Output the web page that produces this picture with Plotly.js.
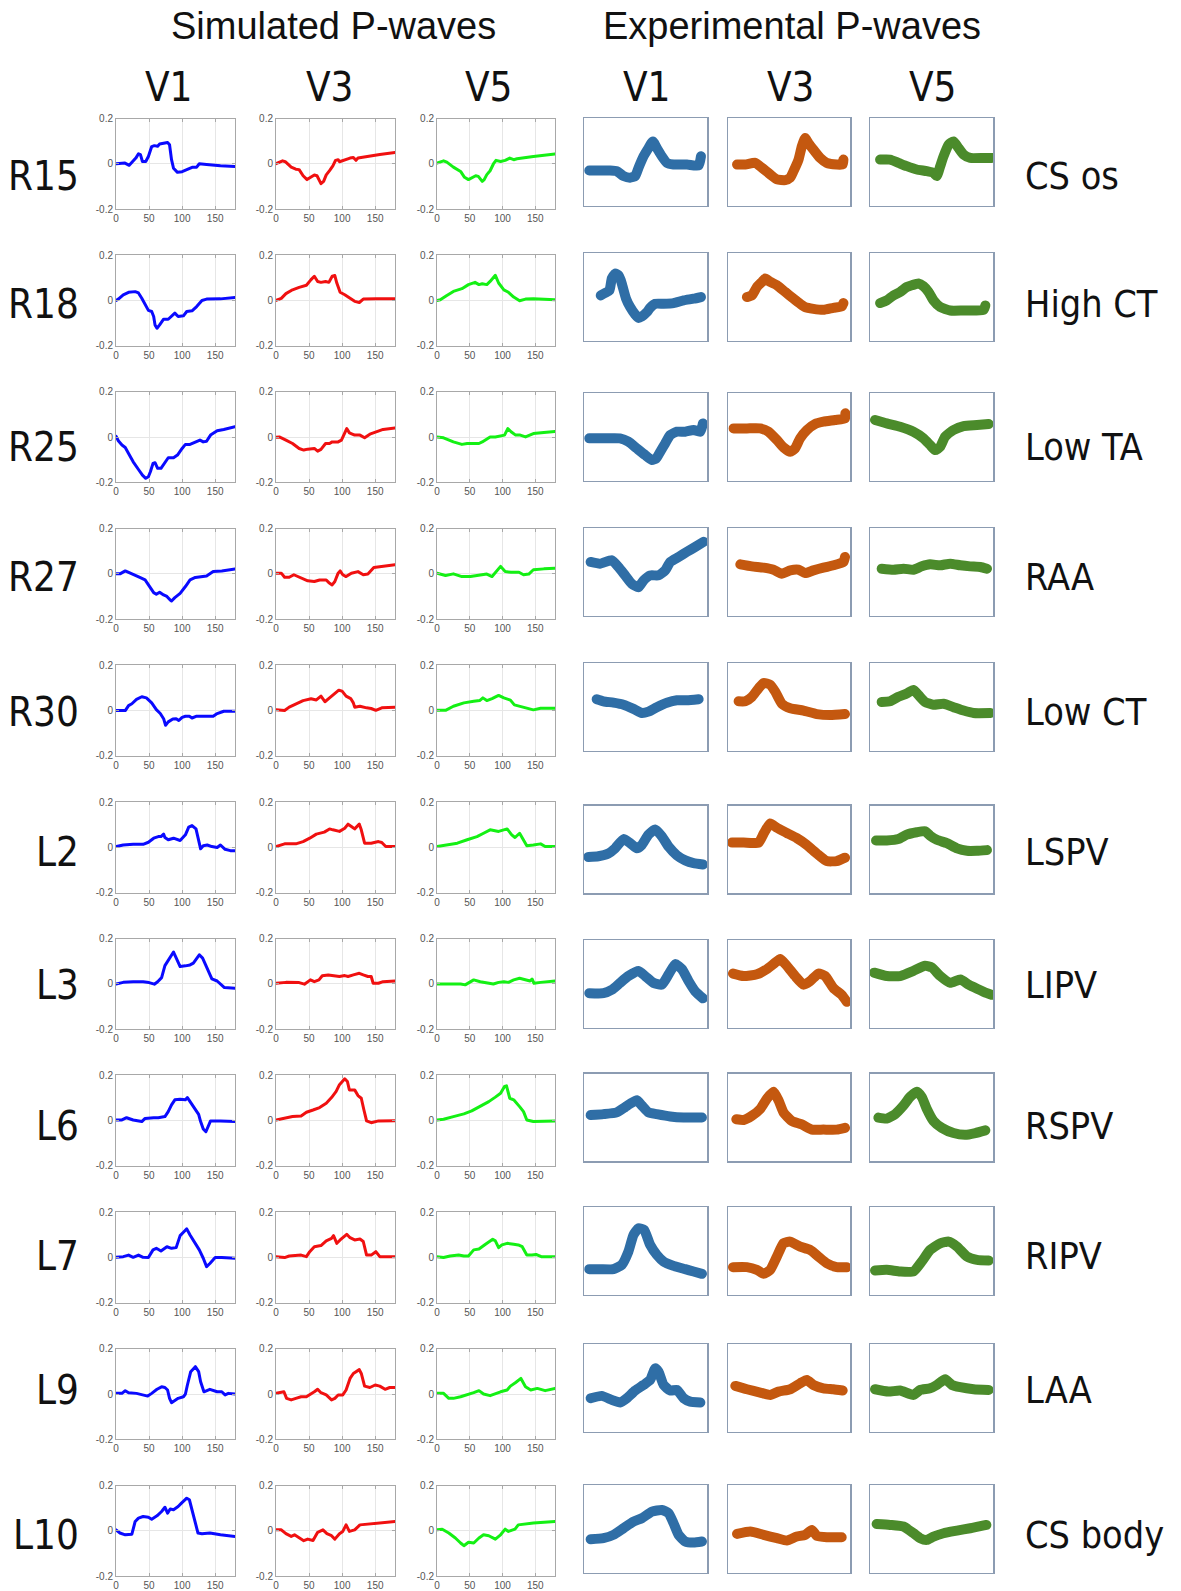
<!DOCTYPE html>
<html><head><meta charset="utf-8">
<script src="https://cdn.plot.ly/plotly-3.0.1.min.js"></script>
<style>html,body{margin:0;padding:0;background:#fff}#chart{width:1181px;height:1591px}
.js-line{stroke-linejoin:round;stroke-linecap:round}</style>
</head><body><div id="chart"></div>
<script>
// ---------------- labels ----------------
const rowLabels = ['R15','R18','R25','R27','R30','L2','L3','L6','L7','L9','L10'];
const siteLabels = ['CS os','High CT','Low TA','RAA','Low CT','LSPV','LIPV','RSPV','RIPV','LAA','CS body'];
const leads = ['V1','V3','V5'];
const groupTitles = ['Simulated P-waves','Experimental P-waves'];
const xTicks = [0,50,100,150];
const yTicks = [-0.2,0,0.2];
const yTickText = ['-0.2','0','0.2'];

// ---------------- simulated P-waves: [time, amplitude] ----------------
const sim_R15_V1 = [[0,0],[10,0],[13.6,0.003],[20,-0.007],[26,0.01],[30,0.025],[34,0.044],[37,0.04],[40,0.01],[45,0.01],[49,0.032],[54,0.076],[58,0.08],[63,0.077],[66,0.087],[72,0.09],[78,0.094],[81,0.084],[84,0.018],[87,-0.02],[93,-0.038],[100,-0.035],[108,-0.024],[116,-0.015],[122,-0.015],[126,0],[137,-0.003],[158,-0.009],[180,-0.012]];
const sim_R15_V3 = [[0,0],[10,0.013],[14,0.009],[23,-0.015],[30,-0.024],[35,-0.026],[41,-0.053],[47,-0.07],[53,-0.059],[58,-0.05],[62,-0.053],[68,-0.088],[72,-0.078],[76,-0.049],[81,-0.03],[86,-0.009],[90,0.015],[94,0.018],[96,0.009],[104,0.018],[112,0.025],[117,0.028],[121,0.015],[124,0.025],[137,0.032],[157,0.041],[180,0.05]];
const sim_R15_V5 = [[0,0.003],[10,0.013],[15,0.007],[25,-0.015],[36,-0.034],[42,-0.06],[48,-0.07],[53,-0.063],[59,-0.053],[63,-0.056],[69,-0.078],[72,-0.07],[76,-0.048],[81,-0.031],[86,-0.001],[90,0.015],[97,0.01],[104,0.015],[111,0.025],[117,0.018],[122,0.022],[147,0.032],[180,0.043]];
const sim_R18_V1 = [[0,0],[3.5,0.006],[11,0.025],[19,0.036],[29,0.039],[34,0.033],[39,0.01],[44,-0.019],[49,-0.044],[54,-0.049],[57,-0.071],[59,-0.108],[62,-0.123],[66,-0.108],[72,-0.083],[79,-0.083],[83,-0.071],[89,-0.056],[94,-0.071],[102,-0.068],[107,-0.049],[115,-0.046],[122,-0.027],[130,0],[137,0.006],[158,0.007],[180,0.013]];
const sim_R18_V3 = [[0,0],[8,0.009],[15,0.03],[25,0.047],[35,0.058],[46,0.067],[53,0.092],[58,0.107],[63,0.084],[68,0.08],[75,0.084],[80,0.08],[85,0.107],[89,0.11],[92,0.077],[97,0.036],[104,0.025],[112,0.01],[119,-0.004],[126,-0.009],[132,0.006],[152,0.007],[180,0.007]];
const sim_R18_V5 = [[0,0],[5,0.003],[15,0.022],[25,0.04],[38,0.052],[48,0.07],[58,0.08],[64,0.07],[69,0.074],[76,0.07],[81,0.084],[89,0.111],[94,0.077],[102,0.047],[109,0.036],[117,0.015],[126,-0.001],[135,0.006],[147,0.007],[180,0.003]];
const sim_R25_V1 = [[0,0.004],[3.5,-0.016],[9,-0.035],[14,-0.046],[19,-0.072],[26,-0.109],[34,-0.143],[40,-0.168],[45,-0.182],[49,-0.175],[52,-0.153],[56,-0.116],[59,-0.113],[63,-0.138],[68,-0.138],[73,-0.116],[79,-0.091],[87,-0.091],[93,-0.079],[100,-0.05],[105,-0.032],[112,-0.032],[122,-0.018],[127,-0.013],[132,-0.021],[137,-0.018],[143,0.009],[153,0.028],[163,0.034],[180,0.046]];
const sim_R25_V3 = [[0,0],[5,0.001],[15,-0.013],[25,-0.028],[35,-0.05],[42,-0.057],[48,-0.053],[55,-0.053],[58,-0.05],[63,-0.062],[68,-0.054],[75,-0.028],[81,-0.028],[85,-0.021],[94,-0.021],[99,-0.013],[104,0.024],[107,0.038],[111,0.019],[119,0.009],[127,0.009],[134,-0.003],[142,0.013],[152,0.024],[162,0.034],[180,0.041]];
const sim_R25_V5 = [[0,0.001],[10,-0.003],[25,-0.021],[38,-0.032],[46,-0.028],[53,-0.028],[58,-0.028],[64,-0.028],[69,-0.021],[76,-0.006],[81,0.001],[89,0.001],[97,0.004],[103,0.009],[108,0.038],[113,0.024],[120,0.009],[127,0.009],[135,0.001],[147,0.016],[163,0.021],[180,0.025]];
const sim_R27_V1 = [[0,0],[6,0],[14,0.013],[19,0.007],[26,-0.004],[36,-0.016],[44,-0.027],[49,-0.049],[57,-0.083],[61,-0.09],[66,-0.081],[72,-0.093],[77,-0.1],[82,-0.116],[84,-0.12],[89,-0.105],[97,-0.086],[105,-0.056],[112,-0.027],[120,-0.016],[127,-0.012],[137,-0.009],[147,0.01],[160,0.013],[180,0.021]];
const sim_R27_V3 = [[0,0.003],[8,0.003],[13,-0.015],[20,-0.015],[27,-0.004],[33,-0.012],[41,-0.024],[48,-0.031],[58,-0.034],[66,-0.027],[76,-0.027],[80,-0.039],[85,-0.049],[89,-0.034],[94,0.003],[97,0.013],[101,-0.004],[106,-0.012],[114,0.003],[124,0.01],[132,-0.004],[139,-0.001],[148,0.028],[162,0.033],[180,0.04]];
const sim_R27_V5 = [[0,0.003],[5,-0.001],[13,-0.007],[25,0],[38,-0.012],[51,-0.012],[66,-0.004],[76,-0.001],[84,-0.012],[90,0.007],[97,0.033],[104,0.01],[113,0.007],[125,0.007],[132,-0.004],[140,-0.001],[147,0.018],[163,0.022],[180,0.025]];
const sim_R30_V1 = [[0,0],[14,0],[19,0.022],[24,0.03],[31,0.049],[39,0.061],[46,0.056],[54,0.034],[61,0.004],[67,-0.013],[72,-0.036],[75,-0.065],[79,-0.05],[86,-0.037],[91,-0.036],[95,-0.044],[100,-0.03],[105,-0.025],[111,-0.025],[115,-0.033],[122,-0.025],[137,-0.025],[147,-0.025],[152,-0.015],[163,-0.003],[180,-0.003]];
const sim_R30_V3 = [[0,0.004],[13,0],[20,0.015],[30,0.03],[41,0.044],[53,0.052],[61,0.047],[68,0.064],[74,0.039],[81,0.056],[89,0.074],[95,0.09],[100,0.086],[106,0.064],[113,0.053],[117,0.034],[119,0.015],[127,0.019],[137,0.012],[144,0.009],[151,0.001],[160,0.012],[180,0.015]];
const sim_R30_V5 = [[0,0.001],[13,0.001],[25,0.019],[41,0.034],[56,0.041],[65,0.044],[70,0.056],[76,0.044],[84,0.053],[94,0.067],[102,0.056],[112,0.046],[118,0.025],[127,0.018],[140,0.01],[147,0.003],[158,0.01],[180,0.01]];
const sim_L2_V1 = [[0,0.003],[11,0.01],[26,0.013],[41,0.013],[49,0.022],[57,0.04],[64,0.047],[68,0.047],[72,0.058],[74,0.043],[79,0.033],[87,0.04],[97,0.03],[105,0.055],[110,0.089],[115,0.096],[121,0.081],[125,0.033],[128,-0.007],[132,0.007],[138,0.01],[145,0.003],[153,-0.001],[158,0.01],[165,-0.009],[173,-0.015],[180,-0.015]];
const sim_L2_V3 = [[0,0.003],[13,0.015],[30,0.015],[41,0.025],[51,0.04],[61,0.058],[73,0.067],[81,0.081],[86,0.077],[96,0.07],[104,0.084],[109,0.102],[114,0.092],[119,0.081],[126,0.102],[129,0.077],[134,0.018],[144,0.018],[155,0.025],[160,0.021],[166,0.003],[180,0.003]];
const sim_L2_V5 = [[0,0.003],[15,0.01],[31,0.018],[46,0.033],[61,0.047],[71,0.062],[81,0.077],[94,0.07],[107,0.081],[114,0.055],[119,0.043],[126,0.062],[130,0.043],[137,0.007],[147,0.01],[158,0.015],[165,0.003],[180,0.003]];
const sim_L3_V1 = [[0,0],[11,0.007],[26,0.01],[41,0.01],[50,0.006],[58,-0.001],[63,0.01],[69,0.028],[74,0.081],[79,0.102],[83,0.121],[87,0.141],[91,0.115],[97,0.077],[105,0.08],[112,0.084],[117,0.092],[122,0.114],[126,0.129],[131,0.114],[137,0.077],[145,0.022],[153,0.013],[157,0.003],[164,-0.016],[180,-0.019]];
const sim_L3_V3 = [[0,0.003],[15,0.007],[35,0.006],[43,-0.001],[52,0.018],[58,0.01],[65,0.018],[70,0.036],[79,0.04],[89,0.037],[96,0.033],[104,0.037],[109,0.033],[117,0.04],[126,0.047],[132,0.04],[139,0.033],[144,0.033],[147,0.003],[155,0.003],[162,0.01],[180,0.013]];
const sim_L3_V5 = [[0,0],[20,0],[36,0],[43,-0.004],[51,0.01],[56,0.018],[66,0.01],[76,0.006],[86,0],[94,0.007],[102,0.01],[109,0.007],[117,0.018],[126,0.025],[135,0.018],[142,0.013],[145,0.022],[148,0.003],[158,0.007],[180,0.013]];
const sim_L6_V1 = [[0,0.003],[9,0.003],[16,0.013],[26,0.003],[39,-0.004],[44,0.01],[57,0.013],[64,0.013],[74,0.018],[79,0.04],[84,0.07],[89,0.092],[97,0.095],[105,0.092],[108,0.102],[112,0.084],[118,0.062],[125,0.028],[128,-0.004],[132,-0.037],[136,-0.049],[140,-0.019],[143,-0.001],[158,-0.001],[180,-0.004]];
const sim_L6_V3 = [[0,0.003],[15,0.013],[25,0.018],[38,0.021],[46,0.037],[56,0.047],[66,0.058],[76,0.077],[84,0.102],[91,0.129],[96,0.159],[104,0.185],[108,0.173],[111,0.136],[119,0.136],[124,0.111],[129,0.099],[133,0.047],[137,-0.001],[144,-0.009],[155,-0.001],[180,0]];
const sim_L6_V5 = [[0,0.003],[10,0.006],[25,0.018],[41,0.03],[53,0.043],[66,0.062],[79,0.084],[89,0.104],[97,0.121],[103,0.151],[106,0.154],[111,0.099],[117,0.092],[126,0.062],[132,0.04],[137,0.003],[147,-0.004],[180,-0.001]];
const sim_L7_V1 = [[0,0],[11,0.003],[19,0.01],[26,0],[34,0.01],[41,0],[49,-0.001],[56,0.033],[61,0.04],[68,0.028],[77,0.047],[84,0.04],[91,0.043],[97,0.096],[102,0.111],[107,0.126],[112,0.099],[120,0.062],[126,0.033],[132,-0.004],[137,-0.041],[142,-0.027],[150,-0.001],[160,-0.001],[180,-0.004]];
const sim_L7_V3 = [[0,0.003],[13,-0.001],[20,0.006],[30,0.01],[38,0.01],[46,0.003],[51,0.025],[58,0.047],[68,0.052],[76,0.073],[84,0.084],[87,0.096],[92,0.062],[97,0.077],[107,0.102],[112,0.087],[119,0.077],[127,0.081],[132,0.07],[137,0.01],[144,0.01],[151,0.025],[157,0.003],[180,0.003]];
const sim_L7_V5 = [[0,0.003],[10,-0.001],[20,0.006],[33,0.01],[41,0.006],[48,0.006],[56,0.033],[64,0.037],[74,0.058],[85,0.08],[89,0.073],[94,0.043],[99,0.055],[107,0.062],[117,0.058],[124,0.055],[130,0.047],[137,0.01],[145,0.01],[151,0.013],[159,0.003],[180,0.003]];
const sim_L9_V1 = [[0,0.003],[9,0.003],[14,0.015],[19,0.006],[31,0.003],[41,-0.004],[48,-0.009],[54,0.003],[62,0.021],[69,0.032],[74,0.029],[78,0.018],[81,-0.019],[84,-0.038],[89,-0.029],[94,-0.019],[102,-0.012],[105,0],[108,0.04],[113,0.099],[120,0.121],[125,0.099],[128,0.054],[133,0.01],[142,0.021],[153,0.01],[160,0.01],[165,-0.004],[170,0.003],[180,0]];
const sim_L9_V3 = [[0,0.003],[12,0.01],[16,-0.019],[23,-0.026],[30,-0.019],[38,-0.012],[46,-0.012],[53,0],[58,0.01],[63,0.021],[68,0.006],[76,-0.004],[84,-0.026],[89,-0.019],[94,-0.004],[101,-0.004],[106,0.018],[112,0.069],[117,0.091],[126,0.108],[129,0.091],[134,0.035],[142,0.029],[150,0.04],[157,0.035],[165,0.021],[172,0.029],[180,0.029]];
const sim_L9_V5 = [[0,0.003],[10,0.003],[18,-0.019],[25,-0.019],[36,-0.012],[46,-0.004],[56,0.006],[64,0.015],[71,0],[81,-0.007],[89,0.003],[97,0.01],[107,0.018],[112,0.035],[120,0.051],[128,0.069],[135,0.032],[143,0.018],[153,0.025],[165,0.015],[180,0.025]];
const sim_L10_V1 = [[0,0.004],[6,-0.01],[14,-0.018],[24,-0.015],[29,0.041],[34,0.056],[41,0.063],[49,0.06],[54,0.051],[62,0.066],[69,0.085],[74,0.104],[78,0.078],[82,0.096],[87,0.093],[94,0.107],[99,0.122],[107,0.144],[111,0.137],[117,0.063],[124,-0.01],[130,-0.013],[142,-0.01],[158,-0.018],[180,-0.025]];
const sim_L10_V3 = [[0,0.004],[8,0.004],[15,-0.013],[23,-0.025],[28,-0.018],[35,-0.032],[42,-0.044],[48,-0.037],[56,-0.043],[63,-0.007],[71,0.004],[77,-0.013],[84,-0.022],[89,-0.037],[96,-0.013],[101,-0.003],[106,0.026],[111,-0.003],[119,0.004],[127,0.026],[152,0.034],[180,0.041]];
const sim_L10_V5 = [[0,0.004],[8,0.007],[18,-0.01],[28,-0.032],[36,-0.054],[41,-0.066],[48,-0.051],[56,-0.054],[64,-0.032],[71,-0.018],[79,-0.022],[89,-0.037],[97,-0.018],[104,0.007],[109,-0.003],[119,0.007],[124,0.026],[147,0.034],[180,0.041]];

// ---------------- experimental P-waves: [% of panel width, % of panel height] ----------------
const exp_R15_V1 = [[4.3,40.4],[10.3,40.4],[21.2,40.4],[26.6,39.6],[32.1,34],[37.5,32.1],[41.6,34],[44.3,43.4],[48.4,56.6],[52.4,66],[56,73.6],[59.2,66],[63.3,56.6],[67.4,49.1],[72.8,47.2],[83.7,47.2],[93.2,46],[95.1,56.6]];
const exp_R15_V3 = [[7.4,47.2],[14.2,47.2],[22.3,49.1],[27.8,43.4],[34.6,35.8],[40.1,30.2],[46.9,29.4],[51,32.1],[53.7,39.6],[57.8,52.8],[60.5,67.9],[63.2,77.4],[65.9,71.7],[70,64.2],[75.5,54.7],[80.9,49.1],[89.1,47.2],[94,47.2],[94.6,52.8]];
const exp_R15_V5 = [[8.2,52.8],[16.3,52.8],[23.1,49.1],[29.9,45.3],[38,41.5],[46.2,39.6],[51.6,37.7],[54.3,34],[57.1,45.3],[59.8,56.6],[63.9,69.8],[67.9,73.6],[72,66],[76.1,58.5],[81.5,54.7],[92.4,54.7],[99,54.7]];
const exp_R18_V1 = [[13.6,51.9],[17.1,54.6],[20.7,57.7],[22.6,71.2],[25.3,76.9],[28,75],[29.9,69.2],[31.5,61.5],[34.2,48.1],[37.5,38.5],[41.6,30],[44.3,26.2],[47,27.7],[51.1,32.7],[53.8,37.7],[57.9,42.3],[64.7,42.3],[72.8,43.1],[81,46.2],[89.1,48.1],[95.1,50]];
const exp_R18_V3 = [[15.5,50],[19.6,51.9],[23.7,61.5],[27.8,67.3],[30.5,71.2],[34.6,67.3],[40.1,63.5],[46.9,55.8],[53.7,48.1],[59.1,42.3],[63.2,38.5],[70,36.5],[78.2,35.4],[86.4,37.7],[93.2,39.2],[94.6,43.1]];
const exp_R18_V5 = [[8.2,43.1],[13.6,46.2],[19,51.9],[24.5,55.8],[29.9,61.5],[34,63.5],[39.4,65.4],[43.5,62.3],[47.6,55.8],[51.6,46.2],[57.1,38.5],[65.2,34.6],[76.1,34.6],[85.6,34.6],[92.4,35.4],[93.8,40.4]];
const exp_R25_V1 = [[4.3,48.5],[15.8,48.5],[29.3,48.5],[36.1,44.7],[42.9,37],[49.7,29.4],[55.2,23.7],[58.7,25.6],[62,33.2],[66,42.7],[70.1,52.3],[75.5,56.1],[82.3,56.1],[89.1,58],[94.6,56.1],[96.7,65.6]];
const exp_R25_V3 = [[4.6,59.9],[15.5,59.9],[26.4,59.9],[33.2,56.1],[40.1,46.6],[45.5,38.2],[51,33.2],[55,37],[59.1,48.5],[64.6,58],[71.4,64.9],[78.2,67.6],[87.7,69.5],[95.9,71.4],[96.2,77.1]];
const exp_R25_V5 = [[4.1,69.5],[13.6,65.6],[24.5,61.8],[35.3,56.1],[43.5,48.5],[48.9,40.8],[53,35.1],[57.1,38.9],[61.1,50.4],[67.9,58],[76.1,62.6],[87,63.7],[96.5,64.9]];
const exp_R27_V1 = [[5.4,61.5],[13,59.6],[22.6,63.5],[28,55.8],[33.4,46.2],[38.9,36.5],[44.3,32.7],[48.4,40.4],[53.8,46.2],[60.6,46.2],[66,51.9],[70.1,61.5],[76.9,67.3],[83.7,73.1],[90.5,78.8],[97.3,84.6]];
const exp_R27_V3 = [[10.1,58.8],[19.6,56.5],[29.2,55],[37.3,52.7],[44.1,48.1],[51,51.9],[57.8,52.7],[63.2,48.8],[70,51.9],[78.2,55],[86.4,57.7],[94.6,61.5],[95.9,67.3]];
const exp_R27_V5 = [[9.5,53.8],[19,52.7],[27.2,53.8],[35.3,52.7],[42.1,56.5],[48.9,58.8],[57.1,57.7],[65.2,59.6],[73.4,57.7],[81.5,56.5],[89.7,55.8],[95.1,53.8]];
const exp_R30_V1 = [[10.3,59.1],[15.8,56.7],[23.9,55.1],[32.1,52.8],[40.2,48],[47,43.3],[52.4,44.9],[59.2,50],[67.4,55.1],[75.5,57.9],[83.7,57.9],[93.2,59.1]];
const exp_R30_V3 = [[8.7,56.7],[14.2,56.7],[19.6,61.8],[25.1,71.7],[29.2,77.6],[34.6,75.6],[38.7,67.7],[44.1,53.9],[51,48.8],[61.9,46.1],[72.8,42.1],[83.7,40.9],[95.9,42.1]];
const exp_R30_V5 = [[9.5,55.9],[16.3,56.7],[23.1,61.8],[29.9,65.7],[35.3,69.7],[39.4,63.8],[44.8,55.9],[51.6,52.8],[59.8,53.9],[67.9,50],[76.1,46.1],[84.2,43.3],[97.8,43.3]];
const exp_L2_V1 = [[3.5,41.2],[11.7,42],[19.8,45.1],[25.3,51],[32.1,61.6],[37.5,56.9],[42.9,51],[47,54.9],[52.4,66.7],[57.9,72.5],[63.3,64.7],[68.8,52.9],[75.5,43.1],[82.3,37.3],[89.1,34.1],[96.7,32.5]];
const exp_L2_V3 = [[3.3,57.6],[12.8,57.6],[25.1,57.6],[29.2,67.8],[34.6,79.6],[40.1,74.5],[48.2,68.6],[56.4,62.7],[64.6,54.9],[72.8,45.1],[80.9,36.5],[89.1,36.5],[95.9,40.4]];
const exp_L2_V5 = [[4.9,60],[13.6,60],[23.1,61.6],[29.9,66.7],[38,69.4],[44.8,70.6],[48.9,65.5],[54.3,60.8],[62.5,56.9],[70.7,51],[78.8,48.2],[87,48.2],[95.1,49]];
const exp_L3_V1 = [[4.3,39.2],[15.8,39.2],[22.6,43.1],[29.3,51],[36.1,58.8],[44.3,64.7],[49.7,58.8],[56.5,51],[63.3,49],[68.8,60.8],[74.2,72.5],[79.6,66.7],[85.1,52.9],[90.5,41.2],[96.7,33.3]];
const exp_L3_V3 = [[4.1,61.6],[12.8,58.8],[23.7,60.8],[31.9,66.7],[37.3,72.5],[42.8,78.4],[48.2,70.6],[55,58.8],[61.9,49],[67.3,52.9],[74.1,61.6],[79.6,58.8],[86.4,45.1],[93.2,37.3],[97.3,29.4]];
const exp_L3_V5 = [[3.3,62.7],[13.6,58.8],[24.5,58.8],[35.3,64.7],[44.8,70.6],[50.3,68.6],[57.1,58.8],[65.2,51],[73.4,54.9],[80.2,49],[87,44.3],[95.1,39.2],[99.2,37.3]];
const exp_L6_V1 = [[5.4,52.8],[15.8,53.9],[26.6,55.9],[33.4,61.8],[37.5,65.7],[42.9,69.7],[47,63.8],[52.4,55.9],[59.2,53.9],[70.1,51.2],[81,50],[95.9,50]];
const exp_L6_V3 = [[6.8,48],[12.8,47.2],[19.6,52],[26.4,59.8],[31.9,71.7],[37.3,79.5],[41.4,69.7],[45.5,55.9],[52.3,46.1],[60.5,42.1],[68.7,36.2],[78.2,36.2],[89.1,36.2],[95.9,38.2]];
const exp_L6_V5 = [[6.8,50],[13.6,48.8],[20.4,53.9],[27.2,63.8],[32.6,73.6],[38,79.5],[42.1,73.6],[46.2,59.8],[51.6,46.1],[58.4,38.2],[67.9,32.3],[77.4,30.3],[85.6,32.3],[93.8,35.4]];
const exp_L7_V1 = [[4.3,29.3],[13,29.3],[23.9,29.3],[30.7,34.2],[36.1,49.4],[40.2,68.4],[44.3,76],[48.9,74.1],[53.8,57],[59.2,45.6],[64.7,38],[72.8,33.1],[82.3,29.3],[89.1,26.6],[95.9,24]];
const exp_L7_V3 = [[4.1,31.6],[15.5,31.6],[23.7,28.5],[29.2,24],[34.6,28.5],[40.1,43.7],[45.5,58.9],[51,60.8],[59.1,55.1],[67.3,51.3],[74.1,43.7],[80.9,36.1],[89.1,31.6],[97.3,31.6]];
const exp_L7_V5 = [[4.1,27.8],[13.6,28.5],[24.5,26.6],[35.3,26.6],[42.1,38],[48.9,51.3],[57.1,58.9],[63.9,60.8],[70.7,55.1],[78.8,43.7],[87,39.9],[96.5,39.2]];
const exp_L9_V1 = [[5.4,38],[14.4,40.7],[22.6,36.1],[29.3,33.1],[34.8,38],[41.6,46.8],[48.4,53.2],[53.8,58.9],[57.9,72.2],[60.6,68.4],[64.7,53.2],[70.1,46.8],[75.5,47.5],[81,38],[86.4,34.2],[94.6,33.1]];
const exp_L9_V3 = [[6,52.1],[15.5,48.3],[26.4,44.5],[34.6,41.8],[41.4,45.6],[51,48.3],[59.1,55.1],[64.6,58.9],[70,53.2],[78.2,49.4],[86.4,48.3],[94,46.8]];
const exp_L9_V5 = [[4.1,48.3],[14.9,45.6],[24.5,46.8],[35.3,41.8],[40.8,47.5],[48.9,49.4],[54.3,53.2],[61.1,59.7],[66.6,53.2],[73.4,50.6],[84.2,48.3],[96.5,47.5]];
const exp_L10_V1 = [[5.4,38],[15.8,39.2],[23.9,43],[32.1,50.6],[40.2,58.2],[47,62],[55.2,69.6],[63.3,71.5],[68.8,67.7],[72.8,56.3],[76.9,43],[82.3,35.4],[89.1,34.2],[95.9,35.4]];
const exp_L10_V3 = [[7.4,44.1],[18.3,46.8],[29.2,43],[40.1,39.2],[48.2,36.5],[56.4,41.1],[63.2,43],[68.7,48.7],[72.8,41.8],[80.9,40.3],[93.2,40.3]];
const exp_L10_V5 = [[5.4,55.5],[16.3,54.4],[27.2,52.5],[35.3,44.9],[40.8,39.2],[46.2,37.3],[51.6,41.1],[59.8,44.9],[70.7,47.9],[81.5,50.6],[94.6,54.4]];

const simRows = [
  [sim_R15_V1, sim_R15_V3, sim_R15_V5], [sim_R18_V1, sim_R18_V3, sim_R18_V5],
  [sim_R25_V1, sim_R25_V3, sim_R25_V5], [sim_R27_V1, sim_R27_V3, sim_R27_V5],
  [sim_R30_V1, sim_R30_V3, sim_R30_V5], [sim_L2_V1, sim_L2_V3, sim_L2_V5],
  [sim_L3_V1, sim_L3_V3, sim_L3_V5], [sim_L6_V1, sim_L6_V3, sim_L6_V5],
  [sim_L7_V1, sim_L7_V3, sim_L7_V5], [sim_L9_V1, sim_L9_V3, sim_L9_V5],
  [sim_L10_V1, sim_L10_V3, sim_L10_V5]];
const expRows = [
  [exp_R15_V1, exp_R15_V3, exp_R15_V5], [exp_R18_V1, exp_R18_V3, exp_R18_V5],
  [exp_R25_V1, exp_R25_V3, exp_R25_V5], [exp_R27_V1, exp_R27_V3, exp_R27_V5],
  [exp_R30_V1, exp_R30_V3, exp_R30_V5], [exp_L2_V1, exp_L2_V3, exp_L2_V5],
  [exp_L3_V1, exp_L3_V3, exp_L3_V5], [exp_L6_V1, exp_L6_V3, exp_L6_V5],
  [exp_L7_V1, exp_L7_V3, exp_L7_V5], [exp_L9_V1, exp_L9_V3, exp_L9_V5],
  [exp_L10_V1, exp_L10_V3, exp_L10_V5]];

// ---------------- layout geometry (pixels) ----------------
const W = 1181, H = 1591;
const simLeft = [116, 276, 437], simRight = [235, 395, 555];
const simTop0 = 118.5, rowStep = 136.7, simH = 90.5;
const expLeft = [584, 728, 870], expRight = [707, 850, 993];
const expTop = [118.3, 253.3, 393.3, 528.3, 663.4, 805.5, 940, 1073.8, 1207.3, 1344, 1485];
const expH = 87.5;
const labelY = [175.5, 304.4, 447.4, 577.3, 712.2, 852.3, 985.2, 1126.2, 1256.1, 1390, 1535];
const headerX = [333, 792], headerY = 26.4;
const leadX = [169, 330, 489, 647, 791, 933], leadY = 87.3;

const simColors = ['#0a0aff', '#f01010', '#14f014'];
const expColors = ['#2f6ea6', '#c4580f', '#4b8b2b'];
const mainFont = 'Liberation Sans, Arial, sans-serif';
const condFont = 'DejaVu Sans Condensed, DejaVu Sans, sans-serif';

const px = v => v / W;
const py = v => 1 - v / H;

const traces = [];
const layout = {
  width: W, height: H, margin: {l: 0, r: 0, t: 0, b: 0},
  paper_bgcolor: '#ffffff', plot_bgcolor: '#ffffff',
  showlegend: false, annotations: []
};

let k = 0;
rowLabels.forEach((lab, r) => {
  for (let c = 0; c < 3; c++) {
    k++;
    const xs = k === 1 ? '' : String(k);
    const top = simTop0 + r * rowStep;
    const d = simRows[r][c];
    traces.push({
      type: 'scatter', mode: 'lines',
      x: d.map(p => p[0]), y: d.map(p => p[1]),
      xaxis: 'x' + xs, yaxis: 'y' + xs,
      line: {color: simColors[c], width: 3}, hoverinfo: 'skip'
    });
    layout['xaxis' + xs] = {
      domain: [px(simLeft[c]), px(simRight[c])], anchor: 'y' + xs,
      range: [0, 180], tickvals: xTicks, showline: true, mirror: 'ticks',
      linecolor: '#a8a8a8', linewidth: 1, showgrid: true, gridcolor: '#e6e6e6',
      zeroline: false, ticks: 'inside', ticklen: 3, tickcolor: '#a8a8a8',
      tickfont: {family: mainFont, size: 10, color: '#555555'}, fixedrange: true
    };
    layout['yaxis' + xs] = {
      domain: [py(top + simH), py(top)], anchor: 'x' + xs,
      range: [-0.2, 0.2], tickvals: yTicks, ticktext: yTickText, showline: true, mirror: 'ticks',
      linecolor: '#a8a8a8', linewidth: 1, showgrid: true, gridcolor: '#e6e6e6',
      zeroline: false, ticks: 'inside', ticklen: 3, tickcolor: '#a8a8a8',
      tickfont: {family: mainFont, size: 10, color: '#555555'}, fixedrange: true
    };
  }
  for (let c = 0; c < 3; c++) {
    k++;
    const xs = String(k);
    const d = expRows[r][c];
    traces.push({
      type: 'scatter', mode: 'lines',
      x: d.map(p => p[0]), y: d.map(p => p[1]),
      xaxis: 'x' + xs, yaxis: 'y' + xs,
      line: {color: expColors[c], width: 10, shape: 'spline', smoothing: 0.5}, hoverinfo: 'skip'
    });
    const ax = {
      range: [0, 100], showline: true, mirror: true,
      linecolor: '#8c9cb2', linewidth: 1.5, showgrid: false, zeroline: false,
      showticklabels: false, ticks: '', fixedrange: true
    };
    layout['xaxis' + xs] = Object.assign({}, ax, {domain: [px(expLeft[c]), px(expRight[c])], anchor: 'y' + xs});
    layout['yaxis' + xs] = Object.assign({}, ax, {domain: [py(expTop[r] + expH), py(expTop[r])], anchor: 'x' + xs});
  }
  layout.annotations.push({
    text: lab, xref: 'paper', yref: 'paper', x: px(81), y: py(labelY[r]),
    xanchor: 'right', yanchor: 'middle', showarrow: false,
    font: {family: condFont, size: 40, color: '#111111'}
  });
  layout.annotations.push({
    text: siteLabels[r], xref: 'paper', yref: 'paper', x: px(1023), y: py(labelY[r]),
    xanchor: 'left', yanchor: 'middle', showarrow: false,
    font: {family: condFont, size: 37.5, color: '#111111'}
  });
});

groupTitles.forEach((t, i) => {
  layout.annotations.push({
    text: t, xref: 'paper', yref: 'paper', x: px(headerX[i]), y: py(headerY),
    xanchor: 'center', yanchor: 'middle', showarrow: false,
    font: {family: mainFont, size: 38, color: '#111111'}
  });
});
for (let i = 0; i < 6; i++) {
  layout.annotations.push({
    text: leads[i % 3], xref: 'paper', yref: 'paper', x: px(leadX[i]), y: py(leadY),
    xanchor: 'center', yanchor: 'middle', showarrow: false,
    font: {family: condFont, size: 40, color: '#111111'}
  });
}

Plotly.newPlot('chart', traces, layout, {staticPlot: true, displayModeBar: false});
</script>
</body></html>
